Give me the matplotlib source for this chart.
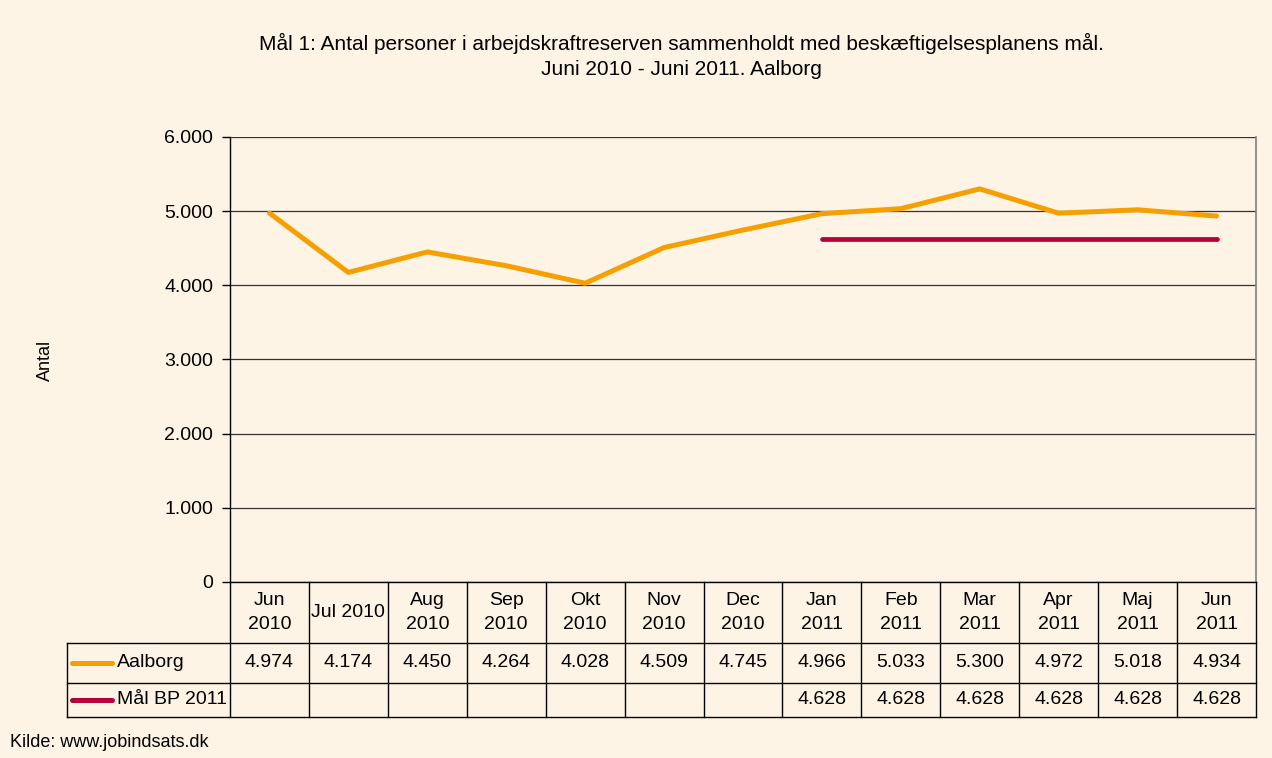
import matplotlib.pyplot as plt
import matplotlib.transforms as mtransforms
from matplotlib.ticker import FuncFormatter, MultipleLocator

plt.rcParams['font.family'] = ['Liberation Sans', 'DejaVu Sans']

# data
months = ['Jun\n2010', 'Jul 2010', 'Aug\n2010', 'Sep\n2010', 'Okt\n2010', 'Nov\n2010', 'Dec\n2010',
          'Jan\n2011', 'Feb\n2011', 'Mar\n2011', 'Apr\n2011', 'Maj\n2011', 'Jun\n2011']
aalborg = [4974, 4174, 4450, 4264, 4028, 4509, 4745, 4966, 5033, 5300, 4972, 5018, 4934]
maal_bp = [None, None, None, None, None, None, None, 4628, 4628, 4628, 4628, 4628, 4628]
series_names = ['Aalborg', 'Mål BP 2011']

bg = '#FDF4E6'
orange = '#F5A000'
red = '#B5003A'


def dk(v):
    return f'{int(v):,}'.replace(',', '.')


fig = plt.figure(figsize=(12.72, 7.58), dpi=100, facecolor=bg)
ax = fig.add_axes([0.1808, 0.2322, 0.8066, 0.5871])
ax.set_facecolor(bg)

x = list(range(len(months)))
ax.plot(x, aalborg, color=orange, lw=3.6, solid_capstyle='round', zorder=3)
xs = [i for i, v in zip(x, maal_bp) if v is not None]
ys = [v for v in maal_bp if v is not None]
ax.plot(xs, ys, color=red, lw=3.4, solid_capstyle='round', zorder=3)

ax.set_xlim(-0.5, len(months) - 0.5)
ax.set_ylim(0, 6000)
ax.yaxis.set_major_locator(MultipleLocator(1000))
ax.yaxis.set_major_formatter(FuncFormatter(lambda v, p: dk(v)))
ax.grid(axis='y', color='#333333', lw=0.9)
ax.set_axisbelow(True)
ax.tick_params(axis='y', direction='out', length=6, width=1, labelsize=14, pad=6)
ax.set_xticks([])
for s in ['top', 'right']:
    ax.spines[s].set_visible(False)
ax.spines['left'].set_color('black')
ax.spines['bottom'].set_color('black')
ax.spines['left'].set_linewidth(1)
ax.spines['bottom'].set_linewidth(1)

fig.text(0.036, 0.525, 'Antal', rotation=90, ha='center', va='center', fontsize=13)

# data table below the axis
tr = mtransforms.blended_transform_factory(ax.transData, ax.transAxes)
row_h = -0.137
row1 = -0.227
row2 = -0.303
left_x = -2.565
right_x = len(months) - 0.5
lkw = dict(color='black', lw=1, transform=tr, clip_on=False)

ax.plot([right_x, right_x], [1, 0], color='#808080', lw=1.2, transform=tr, clip_on=False)
for i in range(len(months) + 1):
    ax.plot([i - 0.5, i - 0.5], [0, row2], **lkw)
for yy in [row_h, row1, row2]:
    ax.plot([left_x, right_x], [yy, yy], **lkw)
ax.plot([left_x, left_x], [row_h, row2], **lkw)

for i, m in enumerate(months):
    ax.text(i, row_h / 2, m, ha='center', va='center', fontsize=14, transform=tr, linespacing=1.5)

for vals, name, col, y0, y1 in [(aalborg, series_names[0], orange, row_h, row1),
                                (maal_bp, series_names[1], red, row1, row2)]:
    ym = (y0 + y1) / 2
    for i, v in enumerate(vals):
        if v is not None:
            ax.text(i, ym, dk(v), ha='center', va='center', fontsize=14, transform=tr)
    ax.plot([left_x + 0.06, left_x + 0.57], [ym, ym], color=col, lw=3.6,
            solid_capstyle='round', transform=tr, clip_on=False)
    ax.text(left_x + 0.63, ym, name, ha='left', va='center', fontsize=14, transform=tr)

fig.text(0.536, 0.926, 'Mål 1: Antal personer i arbejdskraftreserven sammenholdt med beskæftigelsesplanens mål.\n'
         'Juni 2010 - Juni 2011. Aalborg', ha='center', va='center', fontsize=15, linespacing=1.35)
fig.text(0.008, 0.021, 'Kilde: www.jobindsats.dk', ha='left', va='center', fontsize=13)

fig.savefig('out.png', dpi=100, facecolor=bg)
